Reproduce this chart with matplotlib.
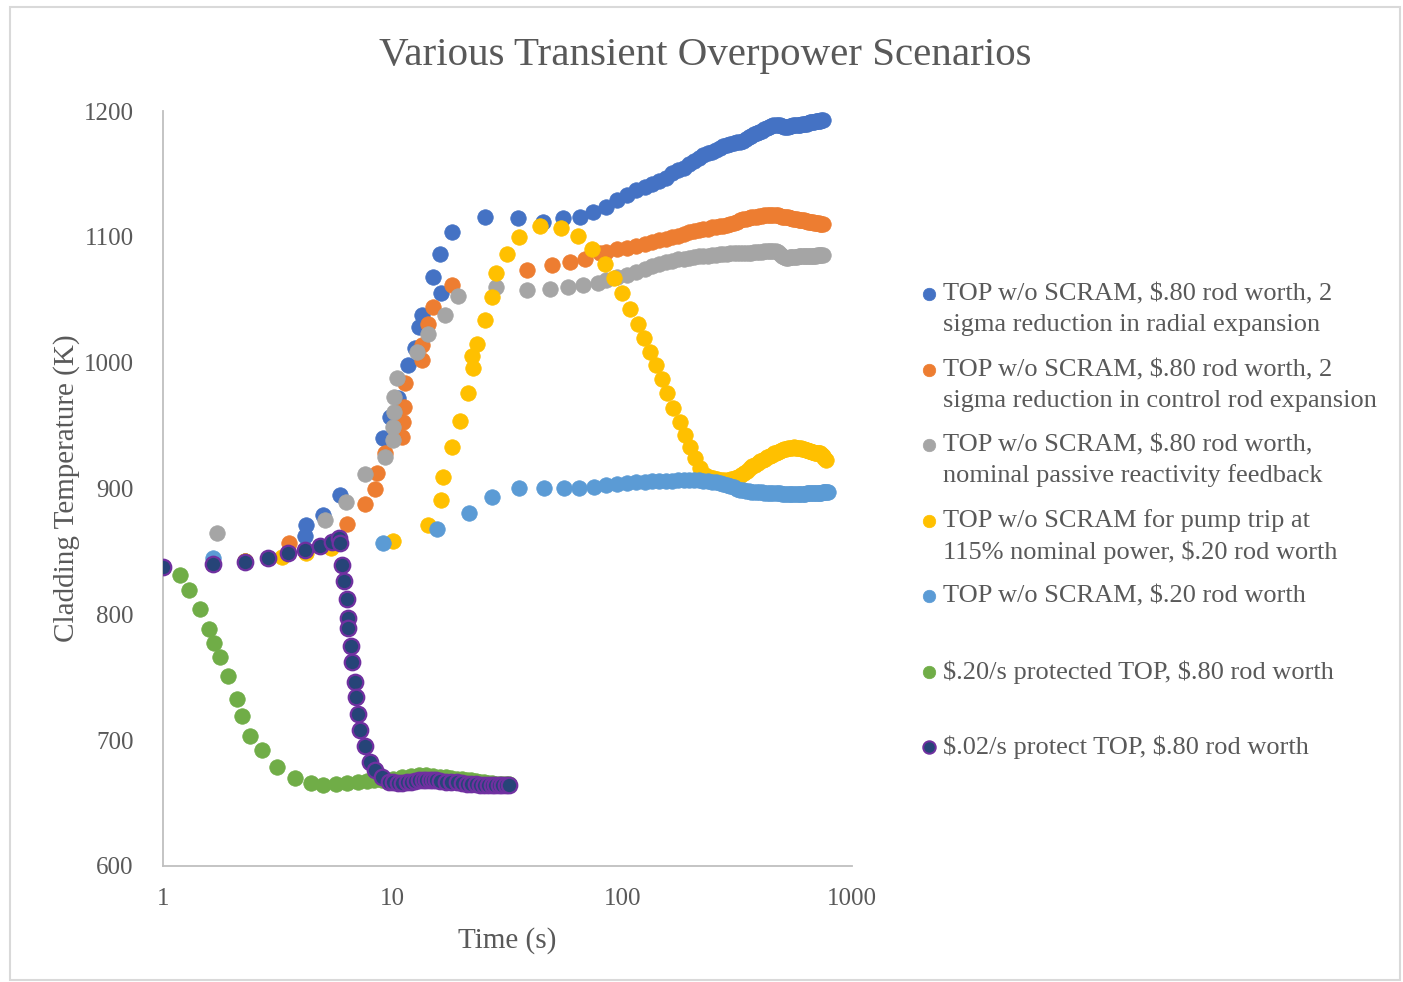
import matplotlib.pyplot as plt
from matplotlib.lines import Line2D
from matplotlib.patches import Rectangle

plt.rcParams['font.family'] = ['Liberation Serif', 'DejaVu Serif']
plt.rcParams['text.parse_math'] = False

# shared late-time grid (s) for the three long-running $.80 cases
tail_t = [85, 95, 105, 115, 125, 135, 145, 155, 165, 175,
          185, 195, 205, 215, 225, 235, 245, 255, 265, 275,
          285, 295, 305, 315, 325, 335, 345, 355, 365, 375,
          385, 395, 405, 415, 425, 435, 445, 455, 465, 475,
          485, 495, 505, 515, 525, 535, 545, 555, 565, 575,
          585, 595, 605, 615, 625, 635, 645, 655, 665, 675,
          685, 695, 705, 715, 725, 735, 745]

# TOP w/o SCRAM, $.80, 2 sigma radial
radial_t = [1.0, 1.65, 2.27, 2.87, 3.5, 4.17, 4.2, 4.98, 5.9, 9.07, 9.75, 10.5, 11.7,
            12.5, 13.0, 13.4, 15.0, 16.07, 16.3, 18.1, 25.2, 35.1, 45.2, 55.2, 65.4, 74.7]
radial_T = [838, 840, 842, 845, 849, 862, 871, 879, 895, 940, 957, 972, 998,
            1012, 1028, 1038, 1068, 1086, 1055, 1104, 1116, 1115, 1112, 1115, 1116, 1120]
radial_tail = [1123.5, 1129, 1133, 1137, 1140, 1142, 1144, 1147, 1150.5, 1153,
               1155, 1157.5, 1160, 1163, 1165, 1166.5, 1167.5, 1169, 1170.5, 1172,
               1173, 1174, 1174.5, 1175, 1175.5, 1176.5, 1177.5, 1179, 1180.5, 1181.5,
               1182.5, 1183.5, 1184.5, 1185.5, 1186.5, 1187, 1188, 1188.5, 1189, 1189,
               1188.5, 1188, 1187.5, 1187.5, 1187.5, 1188, 1188, 1188.5, 1188.5, 1189,
               1189, 1189, 1189.5, 1189.5, 1190, 1190, 1190.5, 1191, 1191, 1191.5,
               1191.5, 1192, 1192, 1192, 1192, 1192.5, 1192.5]

# TOP w/o SCRAM, $.80, 2 sigma control rod
crod_t = [1.0, 1.65, 2.27, 2.87, 3.55, 6.31, 7.59, 8.38, 8.52, 9.25, 11.0, 11.1, 11.2,
          11.3, 13.4, 13.45, 14.3, 15.0, 18.1, 38.4, 49.2, 59.2, 68.9, 80.1]
crod_T = [838, 840, 842, 845, 856.5, 872, 888, 900, 912, 928, 941, 953, 965,
          984, 1002, 1014, 1031, 1044.5, 1061.7, 1073.6, 1077.6, 1080, 1082.5, 1086.8]
crod_tail = [1088, 1090, 1091.5, 1093, 1094.5, 1096, 1097.5, 1098.5, 1100, 1101,
             1102.5, 1103.5, 1104.5, 1105.5, 1106, 1106.5, 1107.5, 1108, 1108.5, 1109,
             1109.5, 1110, 1111, 1112, 1113, 1114, 1114.5, 1115, 1115.5, 1115.5,
             1116, 1116.5, 1116.5, 1117, 1117, 1117, 1117.5, 1117.5, 1117.5, 1117,
             1116.5, 1116, 1116, 1115.5, 1115.5, 1115, 1115, 1114.5, 1114, 1114,
             1113.5, 1113.5, 1113, 1113, 1112.5, 1112.5, 1112, 1112, 1111.5, 1111.5,
             1111, 1111, 1111, 1111, 1110.5, 1110.5, 1110.5]

# TOP w/o SCRAM, $.80, nominal feedback
nominal_t = [1.71, 5.07, 6.27, 7.59, 9.25, 10.0, 10.05, 10.1, 10.15, 10.4, 12.7, 14.3,
             16.9, 19.3, 28.3, 38.4, 48.3, 58.0, 67.4, 78.5]
nominal_T = [864.4, 875, 889.5, 911.5, 925, 938.6, 949, 961, 973, 987.6, 1008.7, 1023,
             1038, 1053, 1060, 1058, 1058.3, 1060, 1061.7, 1063.6]
nominal_tail = [1065.5, 1068, 1070, 1072, 1074.5, 1076.5, 1078.5, 1080, 1081, 1082,
                1082.5, 1083.5, 1084, 1084.5, 1085, 1085, 1085.5, 1085.5, 1086, 1086.5,
                1086.5, 1087, 1087, 1087, 1087, 1087.5, 1087.5, 1087.5, 1087.5, 1088,
                1088, 1088, 1088, 1088.5, 1088.5, 1088.5, 1089, 1089, 1089, 1088,
                1086.5, 1085, 1084, 1083.5, 1083.5, 1084, 1084, 1084, 1084, 1084,
                1084.5, 1084.5, 1084.5, 1084.5, 1084.5, 1085, 1085, 1085, 1085, 1085,
                1085, 1085, 1085.5, 1085.5, 1085.5, 1085.5, 1085.5]

# pump trip at 115% power, $.20
pump_t = [1.0, 1.65, 2.27, 3.29, 4.2, 5.4, 10.0, 14.3, 16.3, 16.5, 18.1, 19.7, 21.2,
          22.1, 22.3, 23.2, 25.2, 27.0, 28.3, 31.6, 35.6, 44.0, 54.3, 64.0, 73.8, 83.7,
          92.1, 99.4, 107.5, 116.6, 123.8, 131.5, 140, 149, 156.4, 166.7, 177.5, 188.2,
          197.5, 207.4, 218, 228.5]
pump_T = [838, 840, 842, 845.3, 849, 853, 858.5, 871, 891, 909.4, 932.6, 954, 976,
          1005, 995.5, 1014.8, 1034, 1052, 1071, 1086.4, 1099.6, 1108.6, 1107.3, 1100.7,
          1090.3, 1078.4, 1067, 1055, 1043, 1031, 1019.4, 1008.7, 998, 986.8, 975.7,
          963.8, 953, 942.5, 933.2, 924, 916, 910.7]
pump_late_t = [238, 248, 258, 268, 278, 288, 298, 308, 318, 328,
               338, 348, 358, 368, 378, 388, 398, 408, 418, 428,
               438, 448, 458, 468, 478, 488, 498, 508, 518, 528,
               538, 548, 558, 568, 578, 588, 598, 608, 618, 628,
               638, 648, 658, 668, 678, 688, 698, 708, 718, 728,
               738, 748, 758, 768]
pump_late_T = [909.5, 908.5, 907.5, 907, 907, 907, 907.5, 908.5, 909.5, 910.5,
               912, 914, 916, 917.5, 919, 920, 921.5, 922.5, 923.5, 925,
               926, 927, 928, 928.5, 929, 929.5, 930.5, 931, 931.5, 932,
               932.5, 932.5, 932.7, 932.5, 932.5, 932, 932, 931.5, 931, 930.5,
               930.5, 930, 929.5, 929, 929, 928.5, 928.5, 928, 928, 928,
               927, 926, 924.5, 923]

# TOP w/o SCRAM, $.20
low_t = [1.0, 1.65, 9.1, 15.6, 21.5, 27.2, 35.6, 45.6, 55.6]
low_T = [838, 844.6, 856.5, 867.8, 880.3, 893.5, 900.2, 900.2, 900.2]
low_late_t = [65, 75, 85, 95, 105, 115, 125, 135, 145, 155,
              165, 175, 185, 195, 205, 215, 225, 235, 245, 255,
              265, 275, 285, 295, 305, 315, 325, 335, 345, 355,
              365, 375, 385, 395, 405, 415, 425, 435, 445, 455,
              465, 475, 485, 495, 505, 515, 525, 535, 545, 555,
              565, 575, 585, 595, 605, 615, 625, 635, 645, 655,
              665, 675, 685, 695, 705, 715, 725, 735, 745, 755,
              765, 775, 785]
low_late_T = [900.2, 901.2, 902.5, 903.6, 904.5, 905, 905.3, 905.6, 906, 906.1,
              906.2, 906.4, 906.6, 906.8, 906.7, 906.4, 906.2, 906, 905.5, 905,
              904.3, 903.5, 902.8, 901.8, 900.8, 899.8, 899, 898.5, 898.2, 897.9,
              897.6, 897.4, 897.2, 897, 896.9, 896.8, 896.6, 896.5, 896.4, 896.3,
              896.2, 896.1, 896.1, 896, 896, 895.9, 895.8, 895.7, 895.6, 895.6,
              895.6, 895.6, 895.7, 895.8, 895.9, 896, 896, 896.1, 896.2, 896.3,
              896.4, 896.5, 896.5, 896.6, 896.6, 896.7, 896.7, 896.8, 896.9, 897,
              897.2, 897.3, 897.4]

# $.20/s protected TOP
prot20_t = [1.0, 1.186, 1.302, 1.449, 1.591, 1.667, 1.771, 1.913, 2.107, 2.202, 2.392,
            2.69, 3.126, 3.756, 4.40, 4.99, 5.67, 6.31, 7.09, 7.7, 8.3, 9, 10, 11, 12,
            13, 14, 15, 16, 17, 18, 19, 20, 21, 22, 23, 24, 25, 26, 27, 28, 29, 30, 31, 32]
prot20_T = [838, 831.3, 819.3, 804, 788, 777.6, 766.4, 750.6, 732.6, 719.3, 703.4,
            692.3, 679, 669.7, 665.7, 664.4, 665.2, 666.2, 667, 667.5, 668, 668.5, 669.5,
            670.5, 671.5, 672, 672, 671.5, 671, 670.5, 670, 669.5, 669, 668.5, 668, 667.5,
            667, 666.5, 666, 666, 665.5, 665.5, 665, 665, 665]

# $.02/s protected TOP
prot02_t = [1.0, 1.646, 2.275, 2.874, 3.513, 4.153, 4.826, 5.43, 5.857, 5.9, 6.035, 6.14,
            6.30, 6.40, 6.42, 6.57, 6.63, 6.855, 6.92, 7.09, 7.2, 7.58, 7.97, 8.38, 8.96,
            9.6, 10, 10.5, 11, 11.5, 12, 12.5, 13, 13.5, 14, 14.5, 15, 15.5, 16, 17, 18,
            19, 20, 21, 22, 23, 24, 25, 26, 27, 28, 29, 30, 31, 32]
prot02_T = [837.9, 839.8, 841.8, 845, 849, 851.1, 854.3, 857.7, 860.4, 856.5, 839.2,
            826.5, 812, 797, 789, 775, 762, 746, 734, 721, 708, 695.4, 683, 676, 671, 667,
            666.5, 666, 666, 666.5, 667, 667.5, 668, 668, 668.5, 668.5, 668, 668, 667.5,
            667, 667, 666.5, 666, 665.5, 665, 665, 664.5, 664.5, 664.5, 664.5, 664.5,
            664.5, 664.5, 664.5, 664.5]

labels = [
    ['TOP w/o SCRAM, $.80 rod worth, 2', 'sigma reduction in radial expansion'],
    ['TOP w/o SCRAM, $.80 rod worth, 2', 'sigma reduction in control rod expansion'],
    ['TOP w/o SCRAM, $.80 rod worth,', 'nominal passive reactivity feedback'],
    ['TOP w/o SCRAM for pump trip at', '115% nominal power, $.20 rod worth'],
    ['TOP w/o SCRAM, $.20 rod worth'],
    ['$.20/s protected TOP, $.80 rod worth'],
    ['$.02/s protect TOP, $.80 rod worth'],
]
faces = ['#4472C4', '#ED7D31', '#A5A5A5', '#FFC000', '#5B9BD5', '#70AD47', '#264478']
edges = ['#4472C4', '#ED7D31', '#A5A5A5', '#FFC000', '#5B9BD5', '#70AD47', '#7030A0']

series = [
    (radial_t + tail_t, radial_T + radial_tail),
    (crod_t + tail_t, crod_T + crod_tail),
    (nominal_t + tail_t, nominal_T + nominal_tail),
    (pump_t + pump_late_t, pump_T + pump_late_T),
    (low_t + low_late_t, low_T + low_late_T),
    (prot20_t, prot20_T),
    (prot02_t, prot02_T),
]

W, H = 1403, 982
fig = plt.figure(figsize=(W / 100, H / 100), dpi=100)
ax = fig.add_axes([163 / W, 1 - 866 / H, (852 - 163) / W, (866 - 111) / H])

for (t, T), fc, ec in zip(series, faces, edges):
    lw = 1.6 if fc != ec else 0.5
    ax.scatter(t, T, s=125, c=fc, edgecolors=ec, linewidths=lw, zorder=3)

ax.set_xscale('log')
ax.set_xlim(1, 1000)
ax.set_ylim(600, 1200)
ax.set_xticks([1, 10, 100, 1000])
ax.set_xticklabels(['1', '10', '100', '1000'])
ax.minorticks_off()
ax.set_yticks(range(600, 1201, 100))
ax.tick_params(length=0, labelsize=18, labelcolor='#595959')
ax.tick_params(axis='y', pad=21)
ax.tick_params(axis='x', pad=16)
for s in ['top', 'right']:
    ax.spines[s].set_visible(False)
for s in ['left', 'bottom']:
    ax.spines[s].set_color('#BFBFBF')
    ax.spines[s].set_linewidth(1.3)

ax.set_xlabel('Time (s)', fontsize=21, color='#595959', labelpad=12)
ax.set_ylabel('Cladding Temperature (K)', fontsize=21, color='#595959', labelpad=3)
fig.text(705 / W, 1 - 55 / H, 'Various Transient Overpower Scenarios', fontsize=29.5,
         color='#595959', ha='center', va='center')

# legend on the right, one slot per series
legend_y = [294, 370, 445, 521, 596, 672, 747]
for lines, fc, ec, y in zip(labels, faces, edges, legend_y):
    lw = 1.4 if fc != ec else 0.5
    fig.add_artist(Line2D([929 / W], [1 - y / H], marker='o', markersize=9,
                          markerfacecolor=fc, markeredgecolor=ec, markeredgewidth=lw,
                          linestyle='none', transform=fig.transFigure))
    for k, line in enumerate(lines):
        fig.text(943 / W, 1 - (y + 31 * k) / H, line, fontsize=19, color='#595959',
                 ha='left', va='center')

fig.add_artist(Rectangle((10 / W, 2 / H), 1390 / W, (975 - 2) / H, fill=False,
                         edgecolor='#D9D9D9', linewidth=1.5, transform=fig.transFigure))

fig.savefig('out.png', dpi=100)
